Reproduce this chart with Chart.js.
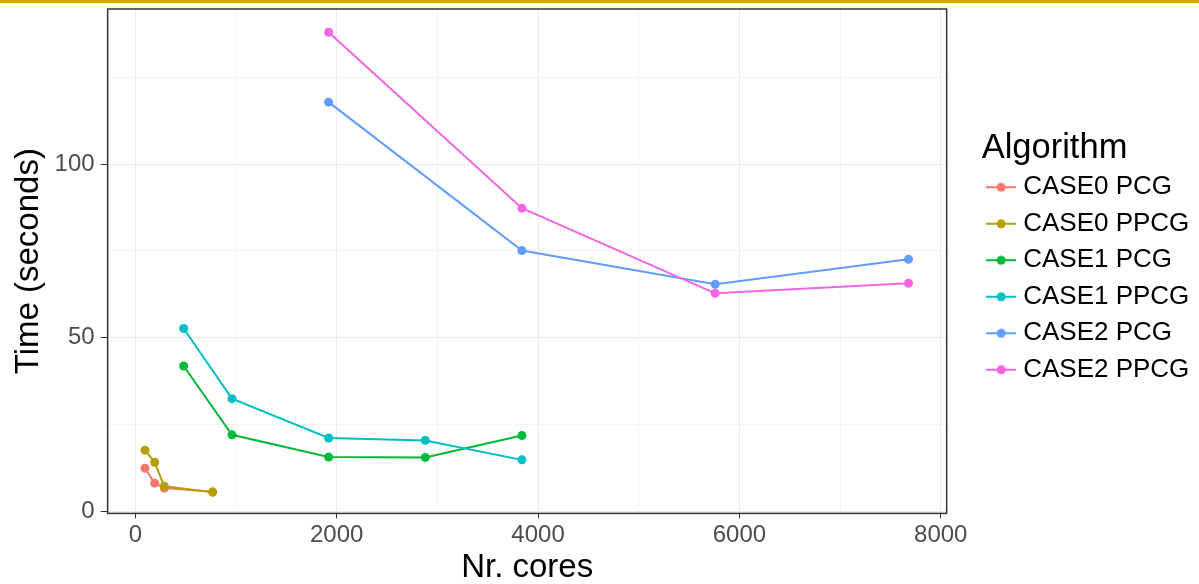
<!DOCTYPE html>
<html>
<head>
<meta charset="utf-8">
<script src="https://cdn.jsdelivr.net/npm/chart.js@4"></script>
<style>
  body { margin: 0; background: #fff; }
  #wrap { position: relative; width: 1199px; height: 584px; }
  #topbar { position: absolute; left: 0; top: 0; width: 1199px; height: 3px; background: #d6a500; }
</style>
</head>
<body>
<div id="wrap">
  <canvas id="timing" width="1199" height="584"></canvas>
  <div id="topbar"></div>
</div>
<script>
// cores used per case
var cores0 = [96, 192, 288, 768];
var cores1 = [480, 960, 1920, 2880, 3840];
var cores2 = [1920, 3840, 5760, 7680];

// time in seconds
var case0PCG  = [12.5, 8.2, 6.8, 5.7];
var case0PPCG = [17.7, 14.2, 7.3, 5.6];
var case1PCG  = [41.9, 22.1, 15.7, 15.6, 21.9];
var case1PPCG = [52.7, 32.5, 21.2, 20.5, 14.9];
var case2PCG  = [117.8, 75.1, 65.4, 72.6];
var case2PPCG = [137.9, 87.3, 62.8, 65.7];

var xTicks = [0, 2000, 4000, 6000, 8000];
var xMinor = [1000, 3000, 5000, 7000];
var yTicks = [0, 50, 100];
var yMinor = [25, 75, 125];

var names  = ['CASE0 PCG', 'CASE0 PPCG', 'CASE1 PCG', 'CASE1 PPCG', 'CASE2 PCG', 'CASE2 PPCG'];
var colors = ['#F8766D', '#B79F00', '#00BA38', '#00BFC4', '#619CFF', '#F564E3'];
var xs = [cores0, cores0, cores1, cores1, cores2, cores2];
var ys = [case0PCG, case0PPCG, case1PCG, case1PPCG, case2PCG, case2PPCG];

function pts(x, y) {
    return x.map(function (v, i) { return { x: v, y: y[i] }; });
}

// little line+dot legend key, like ggplot
function keyIcon(color) {
    var c = document.createElement('canvas');
    c.width = 30; c.height = 12;
    var g = c.getContext('2d');
    g.strokeStyle = color; g.lineWidth = 2;
    g.beginPath(); g.moveTo(0, 6); g.lineTo(30, 6); g.stroke();
    g.fillStyle = color;
    g.beginPath(); g.arc(15, 6, 4.5, 0, Math.PI * 2); g.fill();
    return c;
}

var datasets = names.map(function (n, i) {
    return {
        label: n,
        data: pts(xs[i], ys[i]),
        borderColor: colors[i],
        backgroundColor: colors[i],
        borderWidth: 2,
        pointRadius: 4.5,
        pointBorderWidth: 0,
        pointHoverRadius: 4.5,
        tension: 0,
        order: -i
    };
});

function withMinor(major, minor) {
    return function (scale) {
        scale.ticks = major.concat(minor).sort(function (a, b) { return a - b; })
            .map(function (v) { return { value: v, major: major.indexOf(v) >= 0 }; });
    };
}

var panelBorder = {
    id: 'panelBorder',
    afterDatasetsDraw: function (chart) {
        var a = chart.chartArea, c = chart.ctx;
        c.save();
        c.strokeStyle = '#333333';
        c.lineWidth = 1.5;
        c.strokeRect(a.left, a.top, a.right - a.left, a.bottom - a.top);
        c.restore();
    }
};

// the legend box is measured without room for its left padding, widen it
var widerLegend = {
    id: 'widerLegend',
    beforeLayout: function (chart) {
        var lg = chart.legend;
        if (lg && !lg._widened) {
            var fit = lg.fit;
            lg.fit = function () { fit.call(this); this.width += 19; };
            lg._widened = true;
        }
    }
};

var tickFont = { family: 'Liberation Sans', size: 24 };
var titleFont = { family: 'Liberation Sans', size: 33 };

function gridOpts(len) {
    return {
        color: function (c) { return c.tick && c.tick.major ? '#ebebeb' : '#f4f4f4'; },
        lineWidth: 1,
        tickLength: len,
        tickColor: function (c) { return c.tick && c.tick.major ? '#333' : 'rgba(0,0,0,0)'; }
    };
}

new Chart(document.getElementById('timing').getContext('2d'), {
    type: 'line',
    data: { datasets: datasets },
    plugins: [panelBorder, widerLegend],
    options: {
        responsive: false,
        animation: false,
        layout: { padding: { top: 9, right: 0, left: 9, bottom: -2 } },
        plugins: {
            tooltip: { enabled: false },
            legend: {
                position: 'right',
                align: 'start',
                title: {
                    display: true,
                    text: 'Algorithm',
                    position: 'start',
                    color: '#000',
                    font: { family: 'Liberation Sans', size: 34.5 },
                    padding: { top: 122.5, bottom: -9.2 }
                },
                labels: {
                    color: '#000',
                    font: { family: 'Liberation Sans', size: 26 },
                    usePointStyle: true,
                    pointStyleWidth: 18,
                    padding: 10.5,
                    sort: function (a, b) { return a.datasetIndex - b.datasetIndex; },
                    generateLabels: function (chart) {
                        return Chart.defaults.plugins.legend.labels.generateLabels(chart).map(function (it) {
                            it.pointStyle = keyIcon(colors[it.datasetIndex]);
                            return it;
                        });
                    }
                }
            }
        },
        scales: {
            x: {
                type: 'linear',
                min: -275,
                max: 8059,
                afterBuildTicks: withMinor(xTicks, xMinor),
                title: { display: true, text: 'Nr. cores', color: '#000', font: titleFont, padding: { top: -4.6, bottom: -2.2 } },
                ticks: {
                    color: '#4d4d4d',
                    font: tickFont,
                    padding: 3,
                    maxRotation: 0,
                    autoSkip: false,
                    callback: function (v) { return xTicks.indexOf(v) >= 0 ? String(v) : ''; }
                },
                grid: gridOpts(5),
                border: { display: false }
            },
            y: {
                type: 'linear',
                min: -0.5,
                max: 144.6,
                afterBuildTicks: withMinor(yTicks, yMinor),
                afterFit: function (s) { s.paddingTop = 0; s.paddingBottom = 0; },
                title: { display: true, text: 'Time (seconds)', color: '#000', font: titleFont, padding: { top: 0, bottom: 0 } },
                ticks: {
                    color: '#4d4d4d',
                    font: tickFont,
                    padding: 6,
                    autoSkip: false,
                    callback: function (v) { return yTicks.indexOf(v) >= 0 ? String(v) : ''; }
                },
                grid: gridOpts(7),
                border: { display: false }
            },
            // empty spacer between the panel and the legend
            gap: {
                type: 'linear',
                position: 'right',
                display: true,
                grid: { display: false },
                ticks: { display: false },
                border: { display: false },
                afterFit: function (s) { s.width = 35; }
            }
        }
    }
});
</script>
</body>
</html>
